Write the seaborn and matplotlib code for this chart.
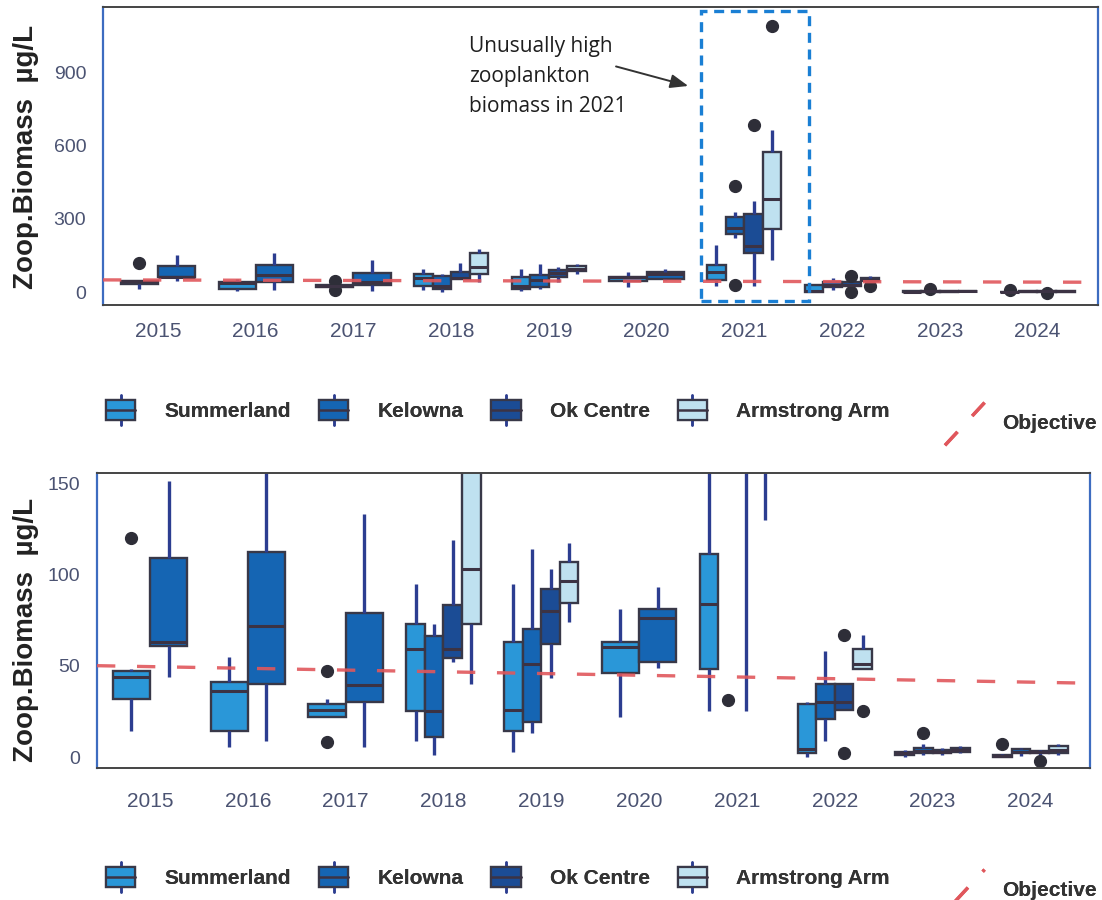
import numpy as np
import pandas as pd
import matplotlib
matplotlib.use("Agg")
import matplotlib.pyplot as plt
import seaborn as sns
from matplotlib.legend_handler import HandlerBase
from matplotlib.patches import Rectangle, Patch
from matplotlib.lines import Line2D

# ---------------- data ----------------
years = ["2015", "2016", "2017", "2018", "2019", "2020", "2021", "2022", "2023", "2024"]
sites = ["Summerland", "Kelowna", "Ok Centre", "Armstrong Arm"]
site_colors = ["#2a97d8", "#1565b3", "#1b4c95", "#bfe1f0"]

# (lower whisker, Q1, median, Q3, upper whisker) per year; None = not sampled
summerland_box = [(14, 32, 44, 47, 48), (5.5, 14, 36, 41, 55), (22, 22, 25.5, 29, 32),
                  (9, 25, 59, 73, 95), (3, 14, 26, 63, 95), (22, 46, 60, 63, 81),
                  (25, 48, 84, 111, 195), (0, 2, 4.5, 29, 30), (0, 1, 2, 3, 4),
                  (0, 0, 0.5, 1, 1.5)]
summerland_out = [[120], [], [47, 8], [], [], [], [], [], [], [7]]

kelowna_box = [(44, 61, 63, 109, 151), (9, 40, 72, 112, 160), (5.5, 30, 39.5, 79, 133),
               (1, 11, 25, 66, 73), (13, 19, 51, 70, 114), (49, 52, 76, 81, 93),
               (220, 238, 262, 308, 330), (9, 21, 30, 40, 58), (1, 2, 3.5, 5, 7),
               (0.5, 2, 3, 4.5, 5)]
kelowna_out = [[], [], [], [], [], [], [31, 436], [], [13], []]

okcentre_box = [None, None, None, (52, 54, 59, 83, 119), (43, 62, 80, 92, 103), None,
                (25, 162, 190, 320, 374), (26, 26, 30, 40, 40), (1, 2, 3, 4, 5),
                (1, 2, 3, 3.5, 4)]
okcentre_out = [[], [], [], [], [], [], [686], [67, 2], [], [-2]]

armstrong_box = [None, None, None, (40, 73, 103, 160, 175), (74, 84.5, 96.5, 106.6, 117),
                 None, (130, 260, 380, 575, 665), (48, 48, 51, 59, 67), (2, 3, 4, 5, 6),
                 (1, 2, 4, 6, 7)]
armstrong_out = [[], [], [], [], [], [], [1090], [25], [], []]

objective_2015_2024 = [49.5, 41.0]

# ---------------- build long table ----------------
site_boxes = dict(zip(sites, [summerland_box, kelowna_box, okcentre_box, armstrong_box]))
site_outs = dict(zip(sites, [summerland_out, kelowna_out, okcentre_out, armstrong_out]))
rows = []
for s in sites:
    for yr, b, outs in zip(years, site_boxes[s], site_outs[s]):
        if b is None:
            continue
        lo, q1, med, q3, hi = b
        vals = [lo] + [q1] * 4 + [med] * 4 + [q3] * 4 + [hi] + list(outs)
        rows += [(yr, s, v) for v in vals]
df = pd.DataFrame(rows, columns=["year", "site", "biomass"])

pair_years = [y for y, b in zip(years, okcentre_box) if b is None]
full_years = [y for y in years if y not in pair_years]
palette = dict(zip(sites, site_colors))

# ---------------- figure ----------------
sns.set_theme(style="white")
plt.rcParams["font.family"] = ["Liberation Sans", "DejaVu Sans"]
W, H = 1102, 900
fig = plt.figure(figsize=(W / 100, H / 100), dpi=100)

def px_axes(l, r, t, b):
    return fig.add_axes([l / W, 1 - b / H, (r - l) / W, (b - t) / H])

ax_top = px_axes(103, 1098, 7, 305)
ax_bot = px_axes(97, 1090, 473, 768)

box_kw = dict(x="year", y="biomass", hue="site", order=years, palette=palette,
              width=0.76, dodge=True, gap=0, saturation=1, linecolor="#383848",
              linewidth=1.7, showcaps=False, fliersize=8.5,
              whiskerprops=dict(color="#2c3d90", linewidth=2.4),
              medianprops=dict(color="#3c3344", linewidth=2.2),
              flierprops=dict(marker="o", markerfacecolor="#2e2e38",
                              markeredgecolor="#2e2e38"),
              legend=False)

for ax in (ax_top, ax_bot):
    sns.boxplot(data=df[df.year.isin(pair_years)], hue_order=sites[:2], ax=ax, **box_kw)
    sns.boxplot(data=df[df.year.isin(full_years)], hue_order=sites, ax=ax, **box_kw)
    ax.axline((0, objective_2015_2024[0]), (9, objective_2015_2024[1]), color="#e0575c",
              lw=2.4, ls=(0, (5.5, 6.5)), alpha=0.9, zorder=5)
    ax.set_xlabel("")
    ax.set_ylabel("")
    ax.tick_params(axis="both", length=4, width=1.2, color="#333333",
                   labelcolor="#4b5372")
    ax.tick_params(axis="y", labelsize=14, pad=8)
    ax.tick_params(axis="x", labelsize=15)
    for side in ("left", "right"):
        ax.spines[side].set_color("#3d6cc0")
        ax.spines[side].set_linewidth(1.6)
    for side in ("top", "bottom"):
        ax.spines[side].set_color("#444444")
        ax.spines[side].set_linewidth(1.4)

ax_top.tick_params(axis="x", pad=8)
ax_bot.tick_params(axis="x", pad=13)
ax_top.set_xlim(-0.563, 9.62)
ax_top.set_ylim(-53, 1170)
ax_top.set_yticks([0, 300, 600, 900])
ax_bot.set_xlim(-0.542, 9.61)
ax_bot.set_ylim(-6, 155.5)
ax_bot.set_yticks([0, 50, 100, 150])

# annotation on top chart
ax_top.add_patch(Rectangle((5.556, -35), 1.104, 1190, fill=False, edgecolor="#1a7fd4",
                           lw=2.4, ls=(0, (3, 2)), clip_on=False, zorder=6))
ax_top.text(3.18, 1052, "Unusually high\nzooplankton\nbiomass in 2021", ha="left",
            va="top", fontsize=15, family=["Open Sans", "DejaVu Sans"], color="#1e1e1e",
            linespacing=1.58)
ax_top.annotate("", xy=(5.454, 843), xytext=(4.66, 929),
                arrowprops=dict(arrowstyle="-|>,head_length=0.9,head_width=0.35",
                                color="#333333", lw=1.4))

# y labels
for yc in (157, 630):
    fig.text(26 / W, 1 - yc / H, "Zoop.Biomass  \u00b5g/L", rotation=90, ha="center",
             va="center", fontsize=20, fontweight="bold", color="#222222")

# ---------------- legends ----------------
class BoxHandler(HandlerBase):
    def create_artists(self, legend, orig_handle, xdescent, ydescent, width, height,
                       fontsize, trans):
        x0, y0 = -xdescent, -ydescent
        fc = orig_handle.get_facecolor()
        v = Line2D([x0 + width / 2] * 2, [y0 - 0.2 * height, y0 + 1.2 * height],
                   color="#2c3d90", lw=1.8, transform=trans)
        r = Rectangle((x0, y0 + 0.02 * height), width, 0.96 * height, facecolor=fc,
                      edgecolor="#383848", lw=1.6, transform=trans)
        m = Line2D([x0, x0 + width], [y0 + height / 2] * 2, color="#3c3344", lw=1.8,
                   transform=trans)
        return [v, r, m]

class DiagHandler(HandlerBase):
    def create_artists(self, legend, orig_handle, xdescent, ydescent, width, height,
                       fontsize, trans):
        x0, y0 = -xdescent, -ydescent
        l = Line2D([x0, x0 + width], [y0 - 0.6 * height, y0 + 1.4 * height],
                   color="#e0575c", lw=2.4, ls=(0, (5.5, 6.5)), transform=trans)
        return [l]

site_handles = [Patch(facecolor=c, label=s) for s, c in zip(sites, site_colors)]
obj_handle = [Line2D([], [], label="Objective")]
leg_font = dict(family=["Liberation Sans Narrow", "Liberation Sans"], weight="bold",
                size=15)

for yc in (410, 877):
    lg = fig.legend(handles=site_handles, loc="center left",
                    bbox_to_anchor=(106 / W, 1 - yc / H), ncol=4, frameon=False,
                    prop=leg_font, handler_map={Patch: BoxHandler()}, handlelength=1.4,
                    handleheight=1.2, handletextpad=1.4, columnspacing=1.35,
                    borderpad=0, borderaxespad=0)
    for t in lg.get_texts():
        t.set_color("#333333")
    fig.add_artist(lg)
    lo = fig.legend(handles=obj_handle, loc="center left",
                    bbox_to_anchor=(945 / W, 1 - (yc + 12) / H), frameon=False,
                    prop=leg_font, handler_map={Line2D: DiagHandler()}, handlelength=1.9,
                    handleheight=1.2, handletextpad=0.85, borderpad=0, borderaxespad=0)
    for t in lo.get_texts():
        t.set_color("#333333")
    fig.add_artist(lo)

fig.savefig("out.png", dpi=100, facecolor="white")
